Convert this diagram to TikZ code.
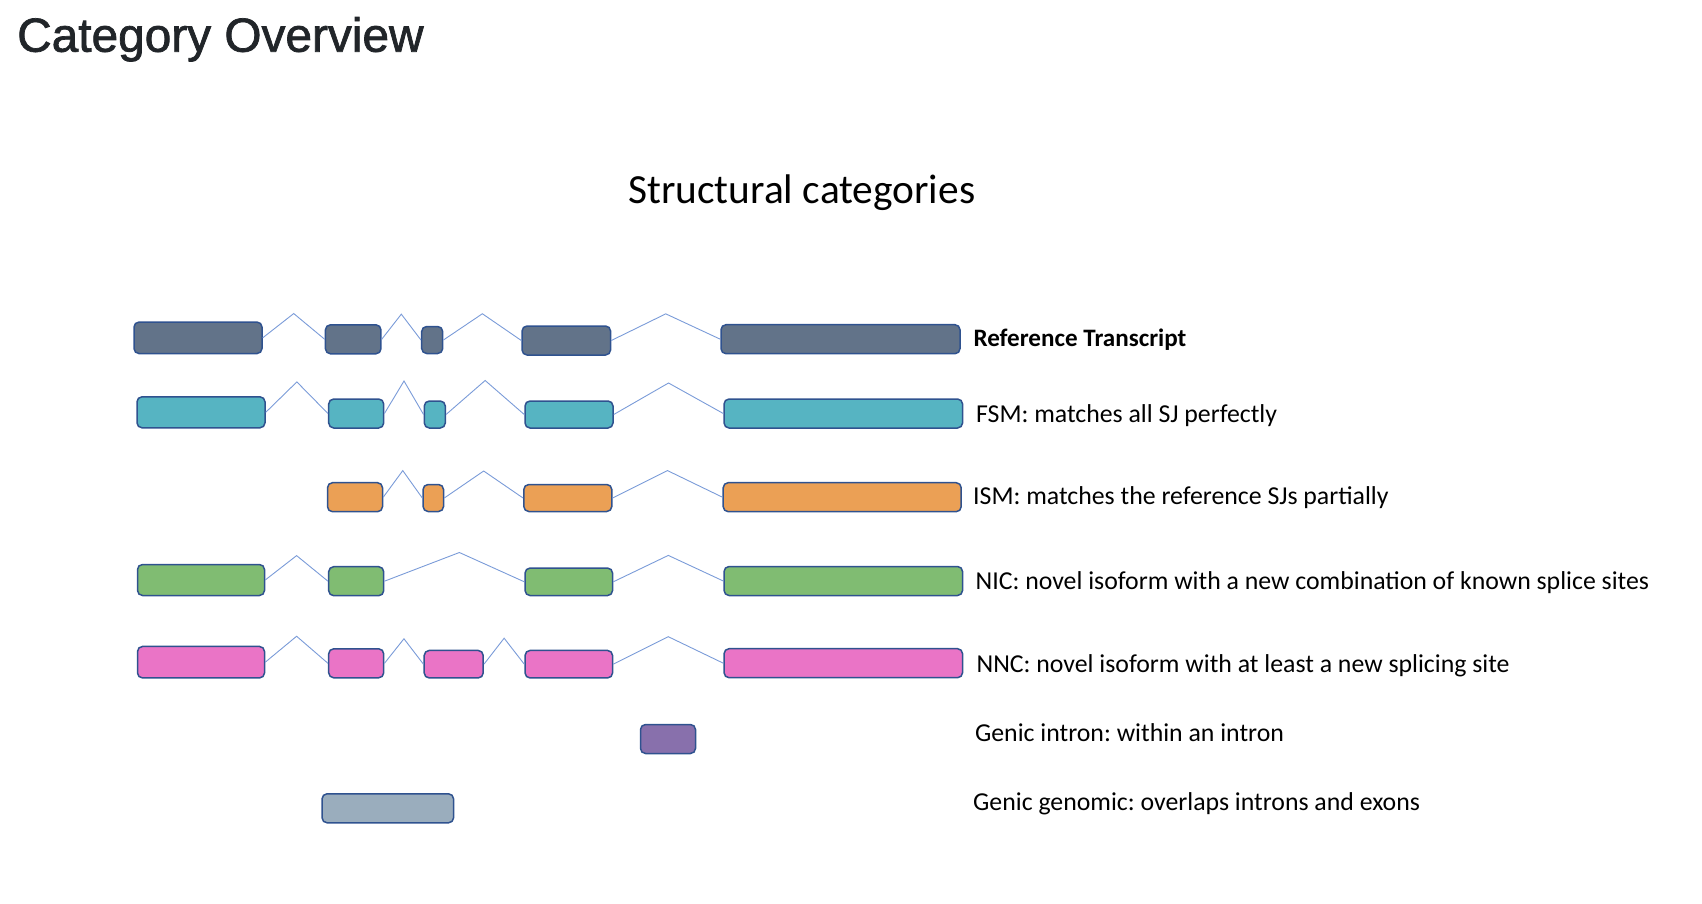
\documentclass[tikz,border=0pt]{standalone}
\usepackage{fontspec}
\setmainfont{Carlito}
\newfontfamily\headfont[FakeBold=1.5]{Liberation Sans}
\usetikzlibrary{calc}
\definecolor{ExonLine}{HTML}{2F528F}
\definecolor{IntronLine}{HTML}{7A9BD8}
\definecolor{RefGray}{HTML}{627389}
\definecolor{FsmTeal}{HTML}{56B4C2}
\definecolor{IsmOrange}{HTML}{EBA055}
\definecolor{NicGreen}{HTML}{80BC72}
\definecolor{NncPink}{HTML}{EA74C6}
\definecolor{IntronPurple}{HTML}{8870AC}
\definecolor{GenomicGray}{HTML}{9AADBD}
\definecolor{Heading}{HTML}{212529}
\frenchspacing

\begin{document}
\begin{tikzpicture}[x=1pt,y=-1pt,
  exon/.style={draw=ExonLine,line width=1.5pt,rounded corners=5pt,inner sep=0pt,minimum height=29pt},
  intron/.style={draw=IntronLine,line width=0.9pt},
  catlabel/.style={anchor=base west,inner sep=0pt,font=\fontsize{25.8}{30}\selectfont}]
  \useasboundingbox (0,0) rectangle (1702,904);

  % headings
  \node[anchor=base west,inner sep=0pt,text=Heading,font=\headfont\fontsize{47.8}{56}\selectfont] (title) at (17,51.7) {Category Overview};
  \node[anchor=base,inner sep=0pt,font=\fontsize{41.4}{50}\selectfont] (subtitle) at (801.8,203.3) {Structural categories};

  % reference transcript
  \node[exon,fill=RefGray,minimum width=128pt,minimum height=31.5pt] (ref1) at (198,337.8) {};
  \node[exon,fill=RefGray,minimum width=55.5pt] (ref2) at (353.2,339.3) {};
  \node[exon,fill=RefGray,minimum width=21pt,minimum height=27pt] (ref3) at (432.2,340) {};
  \node[exon,fill=RefGray,minimum width=88.5pt] (ref4) at (566.3,340.5) {};
  \node[exon,fill=RefGray,minimum width=239pt] (ref5) at (840.5,339.2) {};
  \draw[intron] (ref1.east) -- ($(ref1.east)!0.5!(ref2.west)+(0,-25)$) -- (ref2.west);
  \draw[intron] (ref2.east) -- ($(ref2.east)!0.5!(ref3.west)+(0,-25.5)$) -- (ref3.west);
  \draw[intron] (ref3.east) -- ($(ref3.east)!0.5!(ref4.west)+(0,-26.5)$) -- (ref4.west);
  \draw[intron] (ref4.east) -- ($(ref4.east)!0.5!(ref5.west)+(0,-26)$) -- (ref5.west);
  \node[catlabel,font=\bfseries\fontsize{25.1}{30}\selectfont] (lref) at (973.3,346.7) {Reference Transcript};

  % FSM
  \node[exon,fill=FsmTeal,minimum width=128pt,minimum height=31pt] (fsm1) at (201,412.3) {};
  \node[exon,fill=FsmTeal,minimum width=55pt] (fsm2) at (356.2,413.5) {};
  \node[exon,fill=FsmTeal,minimum width=21pt,minimum height=27pt] (fsm3) at (434.8,414.5) {};
  \node[exon,fill=FsmTeal,minimum width=88pt,minimum height=27pt] (fsm4) at (569,414.5) {};
  \node[exon,fill=FsmTeal,minimum width=238.5pt] (fsm5) at (843.3,413.5) {};
  \draw[intron] (fsm1.east) -- ($(fsm1.east)!0.5!(fsm2.west)+(0,-31)$) -- (fsm2.west);
  \draw[intron] (fsm2.east) -- ($(fsm2.east)!0.5!(fsm3.west)+(0,-33)$) -- (fsm3.west);
  \draw[intron] (fsm3.east) -- ($(fsm3.east)!0.5!(fsm4.west)+(0,-34)$) -- (fsm4.west);
  \draw[intron] (fsm4.east) -- ($(fsm4.east)!0.5!(fsm5.west)+(0,-31)$) -- (fsm5.west);
  \node[catlabel] (lfsm) at (976,422.5) {FSM: matches all SJ perfectly};

  % ISM
  \node[exon,fill=IsmOrange,minimum width=55pt] (ism2) at (355,497.2) {};
  \node[exon,fill=IsmOrange,minimum width=20.5pt,minimum height=27pt] (ism3) at (433.3,498) {};
  \node[exon,fill=IsmOrange,minimum width=88pt,minimum height=27pt] (ism4) at (567.8,498) {};
  \node[exon,fill=IsmOrange,minimum width=238pt] (ism5) at (842.2,497.2) {};
  \draw[intron] (ism2.east) -- ($(ism2.east)!0.5!(ism3.west)+(0,-27)$) -- (ism3.west);
  \draw[intron] (ism3.east) -- ($(ism3.east)!0.5!(ism4.west)+(0,-27)$) -- (ism4.west);
  \draw[intron] (ism4.east) -- ($(ism4.east)!0.5!(ism5.west)+(0,-27)$) -- (ism5.west);
  \node[catlabel] (lism) at (973,504.6) {ISM: matches the reference SJs partially};

  % NIC
  \node[exon,fill=NicGreen,minimum width=127pt,minimum height=31pt] (nic1) at (201,580) {};
  \node[exon,fill=NicGreen,minimum width=55pt] (nic2) at (356.2,581.2) {};
  \node[exon,fill=NicGreen,minimum width=87.5pt,minimum height=27.5pt] (nic4) at (568.8,581.8) {};
  \node[exon,fill=NicGreen,minimum width=238.5pt] (nic5) at (843.3,581) {};
  \draw[intron] (nic1.east) -- ($(nic1.east)!0.5!(nic2.west)+(0,-25)$) -- (nic2.west);
  \draw[intron] (nic2.east) -- ($(nic2.east)!0.5!(nic4.west)+(5,-29)$) -- (nic4.west);
  \draw[intron] (nic4.east) -- ($(nic4.east)!0.5!(nic5.west)+(0,-26)$) -- (nic5.west);
  \node[catlabel] (lnic) at (975.4,589.3) {NIC: novel isoform with a new combination of known splice sites};

  % NNC
  \node[exon,fill=NncPink,minimum width=127pt,minimum height=31.5pt] (nnc1) at (201,662.2) {};
  \node[exon,fill=NncPink,minimum width=55pt] (nnc2) at (356.2,663.3) {};
  \node[exon,fill=NncPink,minimum width=59pt,minimum height=27.5pt] (nnc3) at (453.7,664.2) {};
  \node[exon,fill=NncPink,minimum width=87.5pt,minimum height=27.5pt] (nnc4) at (568.8,664.2) {};
  \node[exon,fill=NncPink,minimum width=238.5pt] (nnc5) at (843.3,663.2) {};
  \draw[intron] (nnc1.east) -- ($(nnc1.east)!0.5!(nnc2.west)+(0,-26.5)$) -- (nnc2.west);
  \draw[intron] (nnc2.east) -- ($(nnc2.east)!0.5!(nnc3.west)+(0,-25)$) -- (nnc3.west);
  \draw[intron] (nnc3.east) -- ($(nnc3.east)!0.5!(nnc4.west)+(0,-26)$) -- (nnc4.west);
  \draw[intron] (nnc4.east) -- ($(nnc4.east)!0.5!(nnc5.west)+(0,-27)$) -- (nnc5.west);
  \node[catlabel] (lnnc) at (976.4,672.5) {NNC: novel isoform with at least a new splicing site};

  % genic
  \node[exon,fill=IntronPurple,minimum width=55pt] (gin) at (668,739) {};
  \node[catlabel] (lgin) at (974.9,741) {Genic intron: within an intron};
  \node[exon,fill=GenomicGray,minimum width=131.5pt] (gge) at (387.8,808.3) {};
  \node[catlabel] (lgge) at (973,810.7) {Genic genomic: overlaps introns and exons};
\end{tikzpicture}
\end{document}
